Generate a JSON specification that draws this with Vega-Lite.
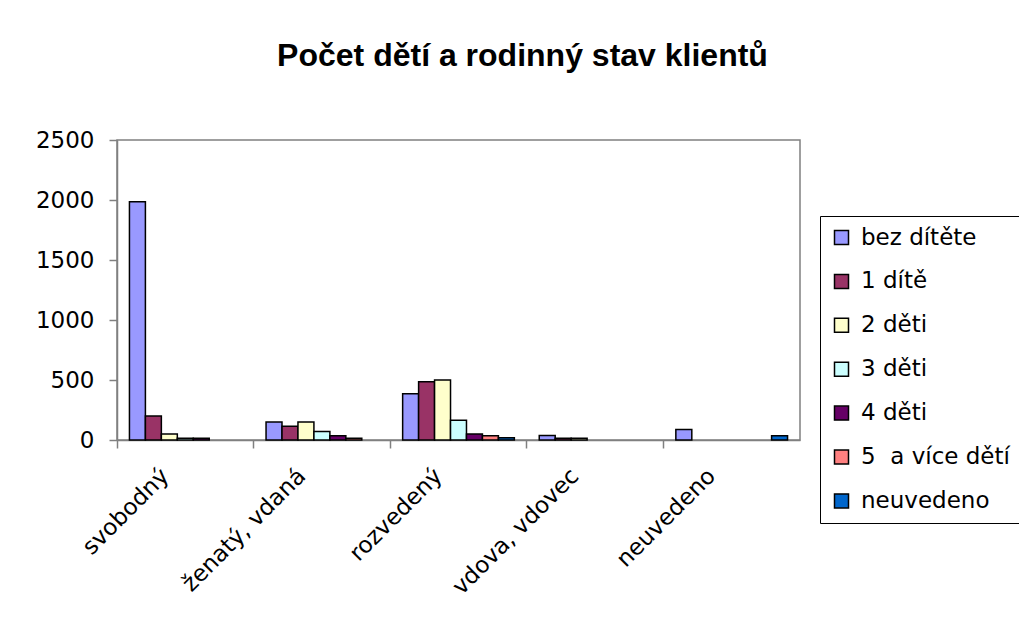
{
  "$schema": "https://vega.github.io/schema/vega-lite/v6.json",
  "width": 683,
  "height": 300,
  "autosize": {"type": "none"},
  "padding": {"left": 117, "top": 140, "right": 219, "bottom": 195},
  "background": "white",
  "title": {
    "text": "Počet dětí a rodinný stav klientů",
    "font": "Liberation Sans",
    "fontSize": 32,
    "fontWeight": "bold",
    "color": "black",
    "anchor": "middle",
    "dx": 64,
    "offset": 56
  },
  "data": {
    "values": [
      {"stav": "svobodný", "deti": "bez dítěte", "pocet": 1985},
      {"stav": "svobodný", "deti": "1 dítě", "pocet": 200},
      {"stav": "svobodný", "deti": "2 děti", "pocet": 50},
      {"stav": "svobodný", "deti": "3 děti", "pocet": 15},
      {"stav": "svobodný", "deti": "4 děti", "pocet": 15},
      {"stav": "svobodný", "deti": "5  a více dětí", "pocet": 0},
      {"stav": "svobodný", "deti": "neuvedeno", "pocet": 0},
      {"stav": "ženatý, vdaná", "deti": "bez dítěte", "pocet": 150},
      {"stav": "ženatý, vdaná", "deti": "1 dítě", "pocet": 115},
      {"stav": "ženatý, vdaná", "deti": "2 děti", "pocet": 150},
      {"stav": "ženatý, vdaná", "deti": "3 děti", "pocet": 70},
      {"stav": "ženatý, vdaná", "deti": "4 děti", "pocet": 35},
      {"stav": "ženatý, vdaná", "deti": "5  a více dětí", "pocet": 15},
      {"stav": "ženatý, vdaná", "deti": "neuvedeno", "pocet": 0},
      {"stav": "rozvedený", "deti": "bez dítěte", "pocet": 385},
      {"stav": "rozvedený", "deti": "1 dítě", "pocet": 485},
      {"stav": "rozvedený", "deti": "2 děti", "pocet": 500},
      {"stav": "rozvedený", "deti": "3 děti", "pocet": 165},
      {"stav": "rozvedený", "deti": "4 děti", "pocet": 50},
      {"stav": "rozvedený", "deti": "5  a více dětí", "pocet": 35},
      {"stav": "rozvedený", "deti": "neuvedeno", "pocet": 18},
      {"stav": "vdova, vdovec", "deti": "bez dítěte", "pocet": 38},
      {"stav": "vdova, vdovec", "deti": "1 dítě", "pocet": 15},
      {"stav": "vdova, vdovec", "deti": "2 děti", "pocet": 15},
      {"stav": "vdova, vdovec", "deti": "3 děti", "pocet": 0},
      {"stav": "vdova, vdovec", "deti": "4 děti", "pocet": 0},
      {"stav": "vdova, vdovec", "deti": "5  a více dětí", "pocet": 0},
      {"stav": "vdova, vdovec", "deti": "neuvedeno", "pocet": 0},
      {"stav": "neuvedeno", "deti": "bez dítěte", "pocet": 88},
      {"stav": "neuvedeno", "deti": "1 dítě", "pocet": 0},
      {"stav": "neuvedeno", "deti": "2 děti", "pocet": 0},
      {"stav": "neuvedeno", "deti": "3 děti", "pocet": 0},
      {"stav": "neuvedeno", "deti": "4 děti", "pocet": 0},
      {"stav": "neuvedeno", "deti": "5  a více dětí", "pocet": 0},
      {"stav": "neuvedeno", "deti": "neuvedeno", "pocet": 35}
    ]
  },
  "transform": [{"filter": "datum.pocet > 0"}],
  "mark": {"type": "bar", "stroke": "black", "strokeWidth": 1.5},
  "encoding": {
    "x": {
      "field": "stav",
      "type": "nominal",
      "sort": ["svobodný", "ženatý, vdaná", "rozvedený", "vdova, vdovec", "neuvedeno"],
      "scale": {
        "domain": ["svobodný", "ženatý, vdaná", "rozvedený", "vdova, vdovec", "neuvedeno"],
        "paddingInner": 0, "paddingOuter": 0
      },
      "axis": {
        "title": null,
        "labelAngle": -45,
        "labelAlign": "right",
        "labelBaseline": "middle",
        "labelFont": "DejaVu Sans",
        "labelFontSize": 23,
        "labelColor": "black",
        "labelPadding": 24,
        "labelOffset": -20,
        "labelLimit": 300,
        "bandPosition": 0,
        "domainColor": "#808080",
        "domainWidth": 1.5,
        "tickColor": "#808080",
        "tickSize": 8,
        "tickWidth": 1.5
      }
    },
    "xOffset": {
      "field": "deti",
      "type": "nominal",
      "scale": {
        "domain": ["bez dítěte", "1 dítě", "2 děti", "3 děti", "4 děti", "5  a více dětí", "neuvedeno"],
        "paddingInner": 0, "paddingOuter": 0.78
      }
    },
    "y": {
      "field": "pocet",
      "type": "quantitative",
      "scale": {"domain": [0, 2500]},
      "axis": {
        "title": null,
        "values": [0, 500, 1000, 1500, 2000, 2500],
        "format": "d",
        "grid": false,
        "labelFont": "DejaVu Sans",
        "labelFontSize": 23,
        "labelColor": "black",
        "labelPadding": 15,
        "domainColor": "#808080",
        "domainWidth": 1.5,
        "tickColor": "#808080",
        "tickSize": 8,
        "tickWidth": 1.5
      }
    },
    "color": {
      "field": "deti",
      "type": "nominal",
      "scale": {
        "domain": ["bez dítěte", "1 dítě", "2 děti", "3 děti", "4 děti", "5  a více dětí", "neuvedeno"],
        "range": ["#9999FF", "#993366", "#FFFFCC", "#CCFFFF", "#660066", "#FF8080", "#0066CC"]
      },
      "legend": {
        "title": null,
        "orient": "none",
        "legendX": 703,
        "legendY": 76,
        "labelFont": "DejaVu Sans",
        "labelFontSize": 23,
        "labelColor": "black",
        "labelExpr": "replace(datum.label, '  ', '\u00a0 ')",
        "symbolType": "square",
        "symbolSize": 196,
        "symbolStrokeColor": "black",
        "symbolStrokeWidth": 1.5,
        "symbolOpacity": 1,
        "rowPadding": 19.9,
        "labelOffset": 8,
        "padding": 10,
        "strokeColor": "black",
        "labelLimit": 400
      }
    }
  },
  "config": {
    "view": {"stroke": "#808080", "strokeWidth": 1.5}
  }
}
